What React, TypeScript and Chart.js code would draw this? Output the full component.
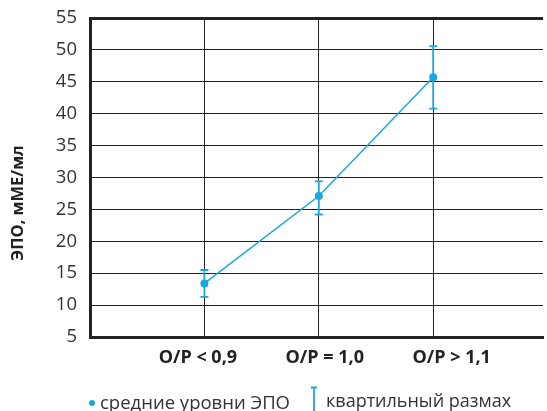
import React, { useEffect, useRef } from "react";
import { Chart, registerables } from "chart.js";

Chart.register(...registerables);

const categories = ["О/Р < 0,9", "О/Р = 1,0", "О/Р > 1,1"];
const positions = [1, 2, 3];
const means = [13.4, 27.1, 45.7];
const lower = [11.3, 24.2, 40.8];
const upper = [15.5, 29.4, 50.6];
const yTicks = [5, 10, 15, 20, 25, 30, 35, 40, 45, 50, 55];

const CYAN = "#1aa7e0";
const GRID = "#222222";
const FONT = "'Open Sans', 'Noto Sans', sans-serif";

const extrasPlugin = {
  id: "extras",
  afterDatasetsDraw(chart: any) {
    const { ctx } = chart;
    const xs = chart.scales.x;
    const ys = chart.scales.y;
    ctx.save();
    ctx.strokeStyle = CYAN;
    ctx.lineWidth = 1.8;
    for (let i = 0; i < positions.length; i++) {
      const px = xs.getPixelForValue(positions[i]);
      const pl = ys.getPixelForValue(lower[i]);
      const pu = ys.getPixelForValue(upper[i]);
      ctx.beginPath();
      ctx.moveTo(px, pl);
      ctx.lineTo(px, pu);
      ctx.moveTo(px - 4, pl);
      ctx.lineTo(px + 4, pl);
      ctx.moveTo(px - 4, pu);
      ctx.lineTo(px + 4, pu);
      ctx.stroke();
    }
    ctx.restore();
  },
  afterDraw(chart: any) {
    const { ctx } = chart;
    ctx.save();
    // Y axis title
    ctx.translate(18, 203);
    ctx.rotate(-Math.PI / 2);
    ctx.fillStyle = "#222";
    ctx.font = `bold 16.5px ${FONT}`;
    ctx.textAlign = "center";
    ctx.textBaseline = "middle";
    ctx.fillText("ЭПО, мМЕ/мл", 0, 0);
    ctx.restore();

    // Legend
    ctx.save();
    ctx.fillStyle = CYAN;
    ctx.beginPath();
    ctx.arc(92, 403, 3, 0, Math.PI * 2);
    ctx.fill();
    ctx.fillStyle = "#333";
    ctx.font = `18.5px ${FONT}`;
    ctx.textAlign = "left";
    ctx.textBaseline = "alphabetic";
    ctx.fillText("средние уровни ЭПО", 100, 409);
    ctx.strokeStyle = CYAN;
    ctx.lineWidth = 1.8;
    ctx.beginPath();
    ctx.moveTo(314, 387);
    ctx.lineTo(314, 411);
    ctx.moveTo(311, 387.5);
    ctx.lineTo(317, 387.5);
    ctx.stroke();
    ctx.font = `18px ${FONT}`;
    ctx.fillText("квартильный размах", 326, 407);
    ctx.restore();
  },
};

const noPad = (s: any) => {
  s.paddingTop = 0;
  s.paddingBottom = 0;
  s.paddingLeft = 0;
  s.paddingRight = 0;
};

export default function App() {
  const ref = useRef<HTMLCanvasElement | null>(null);
  useEffect(() => {
    document.body.style.margin = "0";
    if (!ref.current) return;
    const chart = new Chart(ref.current, {
      type: "line",
      data: {
        datasets: [
          {
            data: positions.map((p, i) => ({ x: p, y: means[i] })),
            borderColor: CYAN,
            backgroundColor: CYAN,
            borderWidth: 1.5,
            pointRadius: 4,
            pointBorderWidth: 0,
            pointHoverRadius: 4,
            tension: 0,
          },
        ],
      },
      options: {
        animation: false,
        responsive: false,
        maintainAspectRatio: false,
        layout: { padding: { top: 18, right: 0, bottom: 0, left: 0 } },
        plugins: { legend: { display: false }, tooltip: { enabled: false } },
        scales: {
          x: {
            type: "linear",
            min: 0,
            max: 3.96,
            afterBuildTicks: (s: any) => {
              s.ticks = positions.map((v) => ({ value: v }));
            },
            ticks: { display: false },
            grid: {
              color: GRID,
              lineWidth: 1,
              drawTicks: false,
            },
            border: { display: true, width: 3, color: GRID },
            afterFit: (s: any) => {
              s.height = 0;
              noPad(s);
            },
          },
          x2: {
            type: "linear",
            position: "bottom",
            min: 0.15,
            max: 3.72,
            afterBuildTicks: (s: any) => {
              s.ticks = positions.map((v) => ({ value: v }));
            },
            ticks: {
              autoSkip: false,
              maxRotation: 0,
              padding: 10,
              color: "#222",
              font: { family: FONT, size: 18, weight: "bold" },
              callback: (v: any) => categories[positions.indexOf(Number(v))] ?? "",
            },
            grid: { display: false, drawTicks: false },
            border: { display: false },
            afterFit: (s: any) => {
              s.height = 74;
              noPad(s);
            },
          },
          y: {
            min: 5,
            max: 55,
            afterBuildTicks: (s: any) => {
              s.ticks = yTicks.map((v) => ({ value: v }));
            },
            ticks: {
              padding: 13,
              color: "#333",
              font: { family: FONT, size: 18.5 },
            },
            grid: {
              color: GRID,
              lineWidth: (c: any) => (c.tick && c.tick.value === 55 ? 3 : 1),
              drawTicks: false,
            },
            border: { display: true, width: 3, color: GRID },
            afterFit: (s: any) => {
              s.width = 90;
              noPad(s);
            },
          },
        },
      },
      plugins: [extrasPlugin],
    } as any);
    return () => chart.destroy();
  }, []);
  return (
    <div style={{ width: 547, height: 411 }}>
      <canvas ref={ref} width={547} height={411} style={{ display: "block" }} />
    </div>
  );
}
